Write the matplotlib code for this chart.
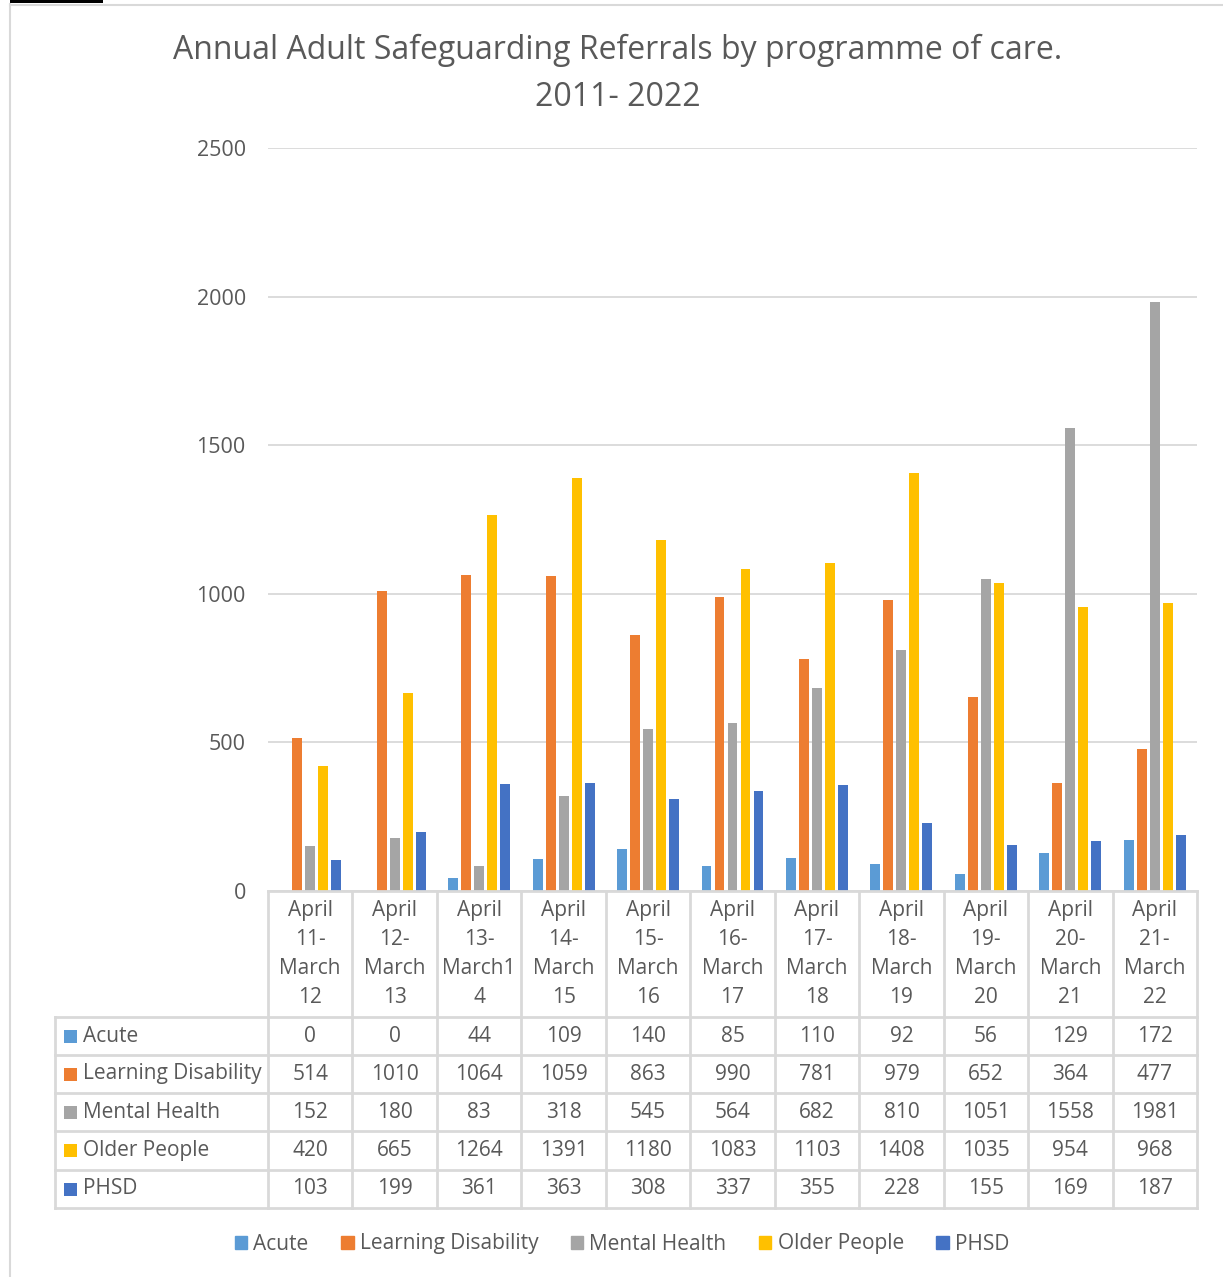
import matplotlib
matplotlib.use('Agg')
import matplotlib.pyplot as plt
import matplotlib.transforms as mtransforms
from matplotlib.lines import Line2D
from matplotlib.patches import Patch, Rectangle

plt.rcParams['font.family'] = ['Open Sans', 'DejaVu Sans']

W, H = 1223, 1277
TEXT = '#595959'
RULE = '#d9d9d9'

PERIODS = ['April\n11-\nMarch\n12', 'April\n12-\nMarch\n13', 'April\n13-\nMarch1\n4',
           'April\n14-\nMarch\n15', 'April\n15-\nMarch\n16', 'April\n16-\nMarch\n17',
           'April\n17-\nMarch\n18', 'April\n18-\nMarch\n19', 'April\n19-\nMarch\n20',
           'April\n20-\nMarch\n21', 'April\n21-\nMarch\n22']
SERIES = ['Acute', 'Learning Disability', 'Mental Health', 'Older People', 'PHSD']
ACUTE = [0, 0, 44, 109, 140, 85, 110, 92, 56, 129, 172]
LEARNING_DISABILITY = [514, 1010, 1064, 1059, 863, 990, 781, 979, 652, 364, 477]
MENTAL_HEALTH = [152, 180, 83, 318, 545, 564, 682, 810, 1051, 1558, 1981]
OLDER_PEOPLE = [420, 665, 1264, 1391, 1180, 1083, 1103, 1408, 1035, 954, 968]
PHSD = [103, 199, 361, 363, 308, 337, 355, 228, 155, 169, 187]
COLOURS = ['#5B9BD5', '#ED7D31', '#A5A5A5', '#FFC000', '#4472C4']
VALUES = [ACUTE, LEARNING_DISABILITY, MENTAL_HEALTH, OLDER_PEOPLE, PHSD]


def fx(px):
    return px / W


def fy(py):
    return 1 - py / H


fig = plt.figure(figsize=(W / 100, H / 100), dpi=100)

# chart frame
fig.add_artist(Line2D([fx(10.5), fx(10.5)], [fy(4), fy(H)], color=RULE, lw=1.5))
fig.add_artist(Line2D([fx(10), fx(W)], [fy(4.5), fy(4.5)], color=RULE, lw=1.5))
fig.add_artist(Rectangle((fx(10), fy(3)), fx(93), 3 / H, color='black', lw=0))

fig.text(fx(618), fy(50), 'Annual Adult Safeguarding Referrals by programme of care.',
         ha='center', va='center', fontsize=23, color=TEXT)
fig.text(fx(618), fy(97), '2011- 2022', ha='center', va='center', fontsize=23, color=TEXT)

ax = fig.add_axes([fx(268), fy(891), fx(1197) - fx(268), (891 - 148) / H])
x = list(range(len(PERIODS)))
step, width = 0.154, 0.118
for i, (vals, colour) in enumerate(zip(VALUES, COLOURS)):
    ax.bar([k + (i - 2) * step for k in x], vals, width=width, color=colour, zorder=3)

ax.set_xlim(-0.5, len(PERIODS) - 0.5)
ax.set_ylim(0, 2500)
ax.set_yticks(range(0, 2501, 500))
ax.yaxis.grid(True, color=RULE, lw=1.3)
ax.set_axisbelow(True)
ax.set_xticks([])
ax.tick_params(axis='y', length=0, pad=16, labelsize=15.5, labelcolor=TEXT)
for spine in ax.spines.values():
    spine.set_visible(False)

# data table under the plot, columns tied to the category axis
trans = mtransforms.blended_transform_factory(ax.transData, fig.transFigure)
row_edges = [1017, 1055, 1093, 1131, 1170, 1208]
for k in range(len(PERIODS) + 1):
    fig.add_artist(Line2D([k - 0.5, k - 0.5], [fy(891), fy(1208)], color=RULE, lw=2,
                          transform=trans))
fig.add_artist(Line2D([fx(55.5), fx(55.5)], [fy(1017), fy(1208)], color=RULE, lw=2))
fig.add_artist(Line2D([fx(268), fx(1197)], [fy(891), fy(891)], color=RULE, lw=2))
for edge in row_edges:
    fig.add_artist(Line2D([fx(55), fx(1197)], [fy(edge), fy(edge)], color=RULE, lw=2))

for k, label in enumerate(PERIODS):
    fig.text(k, fy(954), label, transform=trans, ha='center', va='center',
             fontsize=15, color=TEXT, linespacing=1.5)

for r, (name, vals, colour) in enumerate(zip(SERIES, VALUES, COLOURS)):
    yc = (row_edges[r] + row_edges[r + 1]) / 2
    fig.add_artist(Rectangle((fx(64), fy(yc + 6.5)), 13 / W, 13 / H, color=colour, lw=0))
    fig.text(fx(83), fy(yc), name, ha='left', va='center', fontsize=15, color=TEXT)
    for k, v in enumerate(vals):
        fig.text(k, fy(yc), str(v), transform=trans, ha='center', va='center',
                 fontsize=15, color=TEXT)

handles = [Patch(color=c) for c in COLOURS]
fig.legend(handles, SERIES, loc='center', bbox_to_anchor=(fx(622), fy(1244)), ncol=5,
           frameon=False, fontsize=15, handlelength=0.6, handleheight=0.6,
           handletextpad=0.3, columnspacing=1.55, labelcolor=TEXT)

fig.savefig('out.png', dpi=100)
